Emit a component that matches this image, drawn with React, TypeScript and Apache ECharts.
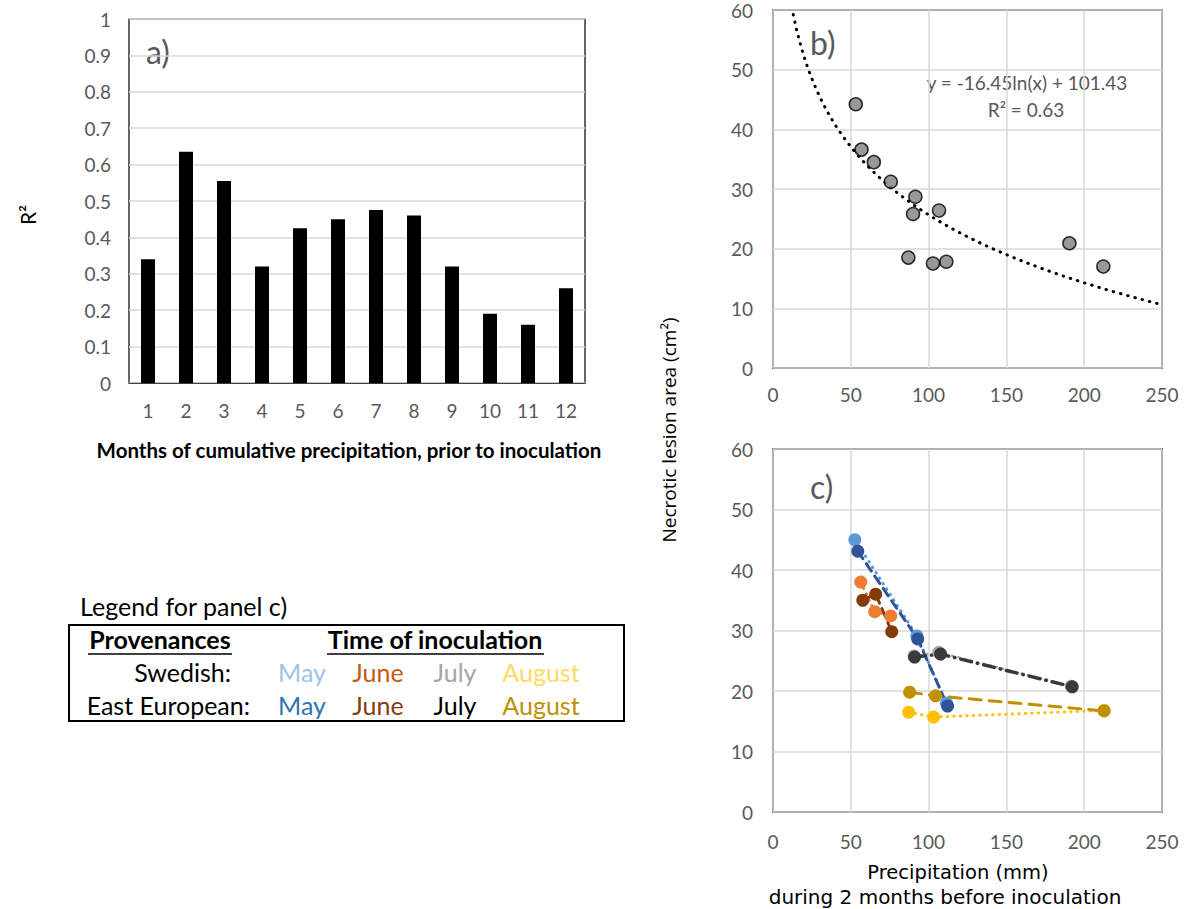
import React, { useEffect, useRef } from "react";
import * as echarts from "echarts";

// Panel a
const months = ["1", "2", "3", "4", "5", "6", "7", "8", "9", "10", "11", "12"];
const r2Values = [0.34, 0.635, 0.555, 0.32, 0.425, 0.45, 0.475, 0.46, 0.32, 0.19, 0.16, 0.26];

// Panel b
const precipB = [53.2, 56.9, 64.8, 75.7, 91.5, 90.0, 106.7, 87.0, 102.8, 111.4, 190.5, 212.3];
const lesionB = [44.2, 36.6, 34.5, 31.2, 28.7, 25.8, 26.4, 18.5, 17.5, 17.8, 20.9, 17.0];
const TREND_SLOPE = -16.45;
const TREND_INTERCEPT = 101.43;
const TREND_X_START = 13;
const TREND_X_END = 250;

// Panel c (x = precipitation, y = lesion area)
const sweMayX = [52.6, 92.5, 111.5];
const sweMayY = [45.0, 29.1, 18.0];
const eeMayX = [54.5, 93.0, 112.2];
const eeMayY = [43.1, 28.6, 17.5];
const sweJuneX = [56.4, 65.4, 75.6];
const sweJuneY = [38.0, 33.1, 32.4];
const eeJuneX = [57.7, 66.0, 76.3];
const eeJuneY = [35.0, 36.0, 29.8];
const sweJulyX = [90.6, 106.6, 191.7];
const sweJulyY = [25.8, 26.4, 20.8];
const eeJulyX = [91.0, 107.7, 192.3];
const eeJulyY = [25.6, 26.1, 20.7];
const sweAugX = [87.2, 103.2, 212.8];
const sweAugY = [16.5, 15.7, 16.8];
const eeAugX = [87.8, 104.5, 212.8];
const eeAugY = [19.8, 19.2, 16.7];

const xTicksPrecip = [0, 250, 50];
const yTicksLesion = [0, 60, 10];

const FONT = "Lato";
const GRAY = "#595959";
const TICK_SIZE = 19;
const LEG_SIZE = 25;

function zip(xs: number[], ys: number[]) {
  return xs.map((x, i) => [x, ys[i]]);
}

export default function App() {
  const ref = useRef<HTMLDivElement>(null);
  useEffect(() => {
    if (!ref.current) return;
    const chart = echarts.init(ref.current, null, { renderer: "svg" });

    const trend: number[][] = [];
    for (let x = TREND_X_START; x <= TREND_X_END + 0.001; x += 2.5) {
      trend.push([x, TREND_SLOPE * Math.log(x) + TREND_INTERCEPT]);
    }
    if (trend[trend.length - 1][0] < TREND_X_END) {
      trend.push([TREND_X_END, TREND_SLOPE * Math.log(TREND_X_END) + TREND_INTERCEPT]);
    }

    const valueAxisCommon = {
      axisTick: { show: false },
      axisLine: { show: false },
      splitLine: { show: true, lineStyle: { color: "#d9d9d9", width: 1.5 } },
      axisLabel: { color: GRAY, fontSize: TICK_SIZE, fontFamily: FONT },
    };

    const cSeries = (
      name: string,
      xs: number[],
      ys: number[],
      color: string,
      type: any,
      width = 3
    ) => ({
      name,
      type: "line",
      xAxisIndex: 2,
      yAxisIndex: 2,
      data: zip(xs, ys),
      symbol: "circle",
      symbolSize: 13,
      itemStyle: { color },
      lineStyle: { color, width, type, cap: "round" },
    });

    const t = (x: number, y: number, text: string, fill: string, fontSize: number, align = "center", extra: any = {}) => ({
      type: "text",
      x,
      y,
      ...extra,
      style: { text, fill, fontSize, fontFamily: FONT, align, verticalAlign: "middle", ...(extra.style || {}) },
    });

    const option: any = {
      animation: false,
      textStyle: { fontFamily: FONT },
      grid: [
        { left: 129, top: 19, width: 456, height: 364, show: true, borderColor: "#000", borderWidth: 1.2 },
        { left: 773, top: 10, width: 389, height: 358, show: true, borderColor: "#000", borderWidth: 1.5 },
        { left: 773, top: 449, width: 389, height: 363, show: true, borderColor: "#000", borderWidth: 1.5 },
      ],
      xAxis: [
        {
          type: "category",
          gridIndex: 0,
          data: months,
          axisTick: { show: false },
          axisLine: { show: true, lineStyle: { color: "#404040", width: 1.2 } },
          axisLabel: { color: GRAY, fontSize: TICK_SIZE, fontFamily: FONT, margin: 18 },
        },
        { type: "value", gridIndex: 1, min: xTicksPrecip[0], max: xTicksPrecip[1], interval: xTicksPrecip[2], ...valueAxisCommon, axisLabel: { ...valueAxisCommon.axisLabel, margin: 17 } },
        { type: "value", gridIndex: 2, min: xTicksPrecip[0], max: xTicksPrecip[1], interval: xTicksPrecip[2], ...valueAxisCommon, axisLabel: { ...valueAxisCommon.axisLabel, margin: 20 } },
      ],
      yAxis: [
        {
          type: "value",
          gridIndex: 0,
          min: 0,
          max: 1,
          interval: 0.1,
          axisTick: { show: false },
          axisLine: { show: false },
          splitLine: { show: true, lineStyle: { color: "#d9d9d9", width: 1.5 } },
          axisLabel: { color: GRAY, fontSize: TICK_SIZE, fontFamily: FONT, margin: 18, formatter: (v: number) => String(Math.round(v * 10) / 10) },
        },
        { type: "value", gridIndex: 1, min: yTicksLesion[0], max: yTicksLesion[1], interval: yTicksLesion[2], ...valueAxisCommon, axisLabel: { ...valueAxisCommon.axisLabel, margin: 20 } },
        { type: "value", gridIndex: 2, min: yTicksLesion[0], max: yTicksLesion[1], interval: yTicksLesion[2], ...valueAxisCommon, axisLabel: { ...valueAxisCommon.axisLabel, margin: 20 } },
      ],
      series: [
        {
          name: "R2",
          type: "bar",
          xAxisIndex: 0,
          yAxisIndex: 0,
          data: r2Values,
          barWidth: 14,
          itemStyle: { color: "#000" },
        },
        {
          name: "trend",
          type: "line",
          xAxisIndex: 1,
          yAxisIndex: 1,
          data: trend,
          showSymbol: false,
          symbol: "none",
          lineStyle: { color: "#000", width: 3, type: [0.5, 7], cap: "round" },
          z: 1,
        },
        {
          name: "obs",
          type: "scatter",
          xAxisIndex: 1,
          yAxisIndex: 1,
          data: zip(precipB, lesionB),
          symbol: "circle",
          symbolSize: 13,
          itemStyle: { color: "#7f7f7f", borderColor: "#000", borderWidth: 1.5 },
          z: 3,
        },
        cSeries("Swedish May", sweMayX, sweMayY, "#5B9BD5", [0.5, 6]),
        cSeries("East European May", eeMayX, eeMayY, "#2F5597", [9, 6]),
        cSeries("Swedish June", sweJuneX, sweJuneY, "#ED7D31", [0.5, 6]),
        cSeries("East European June", eeJuneX, eeJuneY, "#843C0C", [9, 6]),
        cSeries("Swedish July", sweJulyX, sweJulyY, "#A5A5A5", [0.5, 6], 2.5),
        cSeries("East European July", eeJulyX, eeJulyY, "#3a3a3a", [11, 6, 0.5, 6], 3.5),
        cSeries("Swedish August", sweAugX, sweAugY, "#FFC000", [0.5, 6]),
        cSeries("East European August", eeAugX, eeAugY, "#BF9000", [12, 8]),
      ],
      graphic: [
        t(146, 51, "a)", GRAY, 32, "left"),
        t(810, 42, "b)", GRAY, 32, "left"),
        t(810, 486, "c)", GRAY, 32, "left"),
        t(1027, 82, "y = -16.45ln(x) + 101.43", GRAY, 19),
        t(1026, 109, "R² = 0.63", GRAY, 19),
        t(27, 215, "R²", "#000", 21, "center", { rotation: Math.PI / 2 }),
        t(349, 450, "Months of cumulative precipitation, prior to inoculation", "#000", 20.5, "center", { style: { fontWeight: "bold" } }),
        {
          type: "text", x: 669, y: 430, rotation: Math.PI / 2,
          style: { text: "Necrotic lesion area (cm²)", fill: "#000", fontSize: 19, fontFamily: "Open Sans", align: "center", verticalAlign: "middle" },
        },
        {
          type: "text", x: 958, y: 872,
          style: { text: "Precipitation (mm)", fill: "#000", fontSize: 19.5, fontFamily: "DejaVu Sans", align: "center", verticalAlign: "middle" },
        },
        {
          type: "text", x: 945, y: 897,
          style: { text: "during 2 months before inoculation", fill: "#000", fontSize: 20, fontFamily: "DejaVu Sans", align: "center", verticalAlign: "middle" },
        },
        // Legend for panel c
        t(80, 606, "Legend for panel c)", "#000", LEG_SIZE, "left"),
        { type: "rect", shape: { x: 69, y: 625, width: 555, height: 96 }, style: { fill: "none", stroke: "#000", lineWidth: 2 } },
        t(160, 639, "Provenances", "#000", LEG_SIZE, "center", { style: { fontWeight: "bold" } }),
        { type: "line", shape: { x1: 88, y1: 654, x2: 232, y2: 654 }, style: { stroke: "#000", lineWidth: 1.5 } },
        t(435, 639, "Time of inoculation", "#000", LEG_SIZE, "center", { style: { fontWeight: "bold" } }),
        { type: "line", shape: { x1: 327, y1: 654, x2: 544, y2: 654 }, style: { stroke: "#000", lineWidth: 1.5 } },
        t(231, 672, "Swedish:", "#000", LEG_SIZE, "right"),
        t(250, 705, "East European:", "#000", LEG_SIZE, "right"),
        t(302, 672, "May", "#9DC3E6", LEG_SIZE),
        t(378, 672, "June", "#C55A11", LEG_SIZE),
        t(455, 672, "July", "#A5A5A5", LEG_SIZE),
        t(541, 672, "August", "#FFD966", LEG_SIZE),
        t(302, 705, "May", "#2E75B6", LEG_SIZE),
        t(378, 705, "June", "#843C0C", LEG_SIZE),
        t(455, 705, "July", "#000", LEG_SIZE),
        t(541, 705, "August", "#BF9000", LEG_SIZE),
      ],
    };

    chart.setOption(option);
    return () => chart.dispose();
  }, []);

  return (
    <div
      ref={ref}
      style={{ position: "absolute", left: 0, top: 0, width: 1187, height: 909, background: "#fff" }}
    />
  );
}
